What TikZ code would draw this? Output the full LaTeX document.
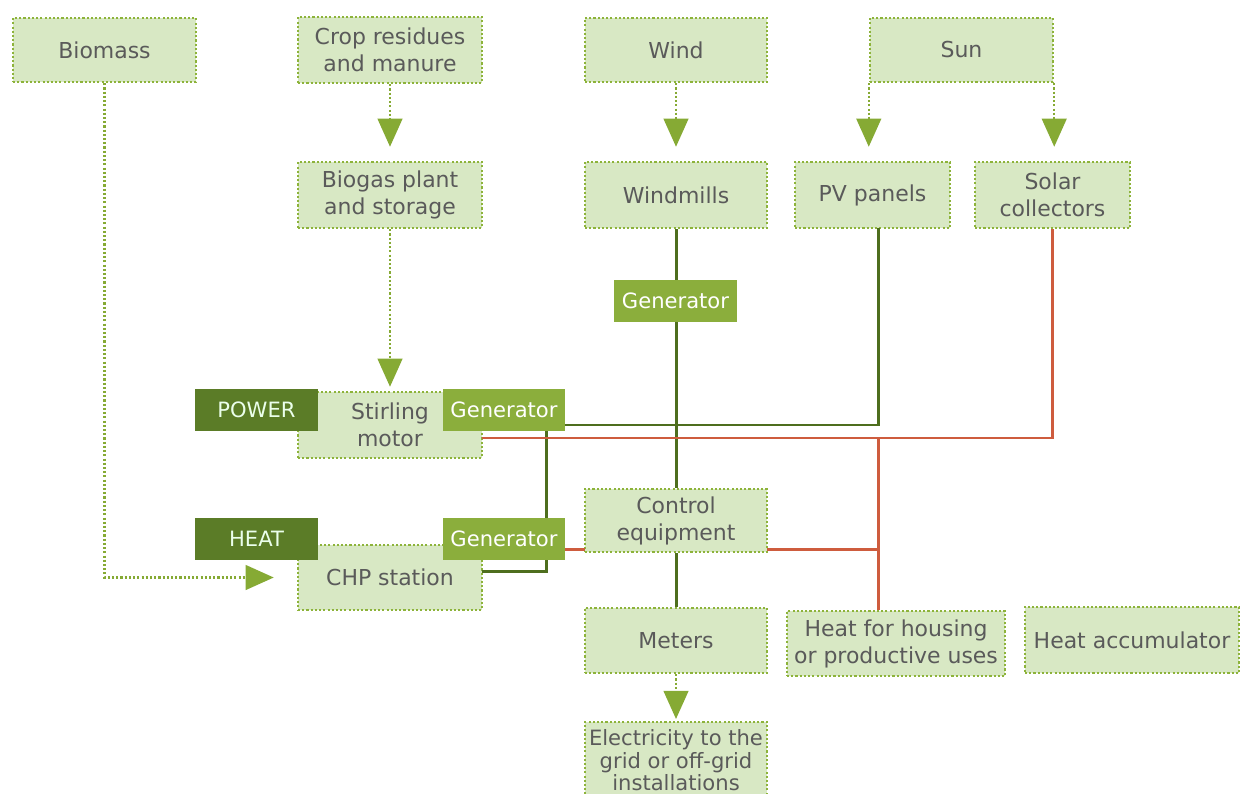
\documentclass[tikz,border=0pt]{standalone}
\usepackage{fontspec}
\setmainfont{DejaVu Sans}
\usetikzlibrary{arrows.meta,calc}
\definecolor{boxfill}{HTML}{D8E8C4}
\definecolor{boxdraw}{HTML}{8DB33A}
\definecolor{arrowc}{HTML}{86AA34}
\definecolor{genfill}{HTML}{8BAE3C}
\definecolor{darkfill}{HTML}{5B7C27}
\definecolor{pwrline}{HTML}{4E6E1E}
\definecolor{heatline}{HTML}{CE5C3E}
\definecolor{txt}{HTML}{5A5A5A}
\begin{document}
\begin{tikzpicture}[x=0.02cm,y=-0.02cm,
  sz/.style 2 args={minimum width=#1*0.02cm, minimum height=#2*0.02cm},
  base/.style={inner sep=0pt, align=center, font=\fontsize{12.5}{15.3}\selectfont},
  box/.style={base, fill=boxfill, draw=boxdraw, line width=1.4pt, dash pattern=on 1.2pt off 1.2pt, text=txt},
  genbox/.style={base, font=\fontsize{12}{14}\selectfont, fill=genfill, text=white, sz={122}{42}},
  labbox/.style={base, font=\fontsize{12}{14}\selectfont, fill=darkfill, text=white!92!green, sz={123}{42}},
  flow/.style={draw=arrowc, line width=1.4pt, dash pattern=on 1.2pt off 1.2pt,
    -{Triangle[width=14pt,length=16pt,fill=arrowc]}},
  pline/.style={draw=pwrline, line width=1.7pt},
  hline/.style={draw=heatline, line width=1.7pt}]
\useasboundingbox (0,0) rectangle (1240,794);

% boxes
\node[box, sz={183}{64}] (biomass) at (104.5,50) {Biomass};
\node[box, sz={184}{66}] (crop) at (390,50) {Crop residues\\and manure};
\node[box, sz={182}{64}] (wind) at (676,50) {Wind};
\node[box, sz={183}{64}] (sun) at (961.5,50) {Sun};
\node[box, sz={184}{66}] (biogas) at (390,195) {Biogas plant\\and storage};
\node[box, sz={182}{66}] (windmills) at (676,195) {Windmills};
\node[box, sz={155}{66}] (pv) at (872.5,195) {PV panels};
\node[box, sz={155}{66}] (solar) at (1052.5,195) {Solar\\collectors};
\node[box, sz={184}{66}] (stirling) at (390,425) {Stirling\\motor};
\node[box, sz={184}{65}] (chp) at (390,577.5) {CHP station};
\node[box, sz={182}{63}] (control) at (676,520.5) {Control\\equipment};
\node[box, sz={182}{65}] (meters) at (676,640.5) {Meters};
\node[box, sz={218}{65}] (heathouse) at (896,643.5) {Heat for housing\\or productive uses};
\node[box, sz={214}{66}] (heatacc) at (1132,640) {Heat accumulator};
\node[box, sz={182}{76}, anchor=north, font=\fontsize{12}{12.8}\selectfont] (elec) at (676,721) {Electricity to the\\grid or off-grid\\installations};

% junction coordinates
\coordinate (pvo) at (878,228);
\coordinate (gaR) at (565,425);
\coordinate (gaB) at (546,431);
\coordinate (gbT) at (546,518);
\coordinate (gbB) at (546,560);
\coordinate (chpR) at (482,571);
\coordinate (stR) at (482,438);
\coordinate (hj) at (878,438);
\coordinate (hj2) at (878,549);
\coordinate (gbR) at (565,549);
\coordinate (ctL) at (585,549);
\coordinate (ctR) at (767,549);

% power lines
\draw[pline] (windmills.south) -- (control.north);
\draw[pline] (control.south) -- (meters.north);
\draw[pline] (pvo) |- (gaR);
\draw[pline] (gaB) -- (gbT);
\draw[pline] (gbB) |- (chpR);

% heat lines
\draw[hline] (solar.south) |- (stR);
\draw[hline] (hj) -- (hj |- heathouse.north);
\draw[hline] (gbR) -- (ctL);
\draw[hline] (ctR) -- (hj2);

% generator / labels on top
\node[genbox, sz={123}{42}] (gen1) at (675.5,301) {Generator};
\node[labbox] (power) at (256.5,410) {POWER};
\node[genbox] (genA) at (504,410) {Generator};
\node[labbox] (heat) at (256.5,539) {HEAT};
\node[genbox] (genB) at (504,539) {Generator};

% flows
\draw[flow] (biomass.south) |- ([xshift=-23*0.02cm]chp.west);
\draw[flow, shorten >=0.28cm] (crop.south) -- (biogas.north);
\draw[flow, shorten >=0.08cm] (biogas.south) -- (stirling.north);
\draw[flow, shorten >=0.28cm] (wind.south) -- (windmills.north);
\draw[flow, shorten >=0.28cm] (sun.south west) -- (sun.south west |- pv.north);
\draw[flow, shorten >=0.28cm] (sun.south east) -- (sun.south east |- solar.north);
\draw[flow, shorten >=0.04cm] (meters.south) -- (elec.north);
\end{tikzpicture}
\end{document}
